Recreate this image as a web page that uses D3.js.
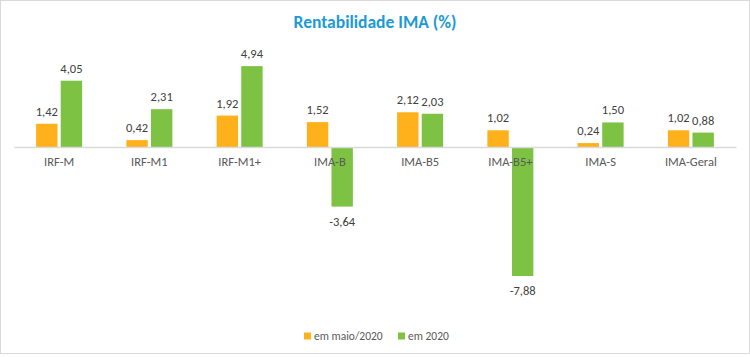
<!DOCTYPE html>
<html><head><meta charset="utf-8">
<script src="https://cdn.jsdelivr.net/npm/d3@7"></script>
<style>body{margin:0;background:#fff}svg{display:block}</style>
</head><body>
<svg id="c" width="750" height="357"></svg>
<script>
const categories = ["IRF-M","IRF-M1","IRF-M1+","IMA-B","IMA-B5","IMA-B5+","IMA-S","IMA-Geral"];
const seriesNames = ["em maio/2020","em 2020"];
const maio2020 = [1.42,0.42,1.92,1.52,2.12,1.02,0.24,1.02];
const ano2020 = [4.05,2.31,4.94,-3.64,2.03,-7.88,1.50,0.88];
const colors = ["#FFB11B","#7DC243"];
const title = "Rentabilidade IMA (%)";

const svg = d3.select("#c");
const W = 750, H = 357;
const font = "Carlito, Lato, 'Open Sans', 'Liberation Sans', sans-serif";
svg.append("rect").attr("x",0.5).attr("y",0.5).attr("width",W-1).attr("height",353).attr("fill","#fff").attr("stroke","#d9d9d9");

const x0 = d3.scaleBand().domain(categories).range([14,736]);
const x1 = d3.scaleBand().domain(seriesNames).range([x0.bandwidth()/2-23, x0.bandwidth()/2+23]).paddingInner(0.13);
const y = d3.scaleLinear().domain([-7.88,4.94]).range([147+7.88*16.37, 147-4.94*16.37]);

svg.append("text").attr("x",375).attr("y",28).attr("text-anchor","middle")
  .attr("font-family",font).attr("font-weight","bold").attr("font-size",17.5).attr("fill","#1C9AD6").text(title);

const data = categories.map((c,i)=>({c, vals:[maio2020[i], ano2020[i]]}));
const g = svg.append("g");
const groups = g.selectAll("g.cat").data(data).join("g").attr("transform",d=>`translate(${x0(d.c)},0)`);
groups.selectAll("rect").data(d=>d.vals.map((v,j)=>({v,s:seriesNames[j],j}))).join("rect")
  .attr("x",d=>x1(d.s)).attr("width",x1.bandwidth())
  .attr("y",d=>y(Math.max(0,d.v))).attr("height",d=>Math.abs(y(d.v)-y(0)))
  .attr("fill",d=>colors[d.j]);

const ax = d3.axisBottom(x0).tickSize(0).tickPadding(10);
const axg = svg.append("g").attr("transform",`translate(0,${y(0)})`).call(ax);
axg.select(".domain").attr("stroke","#d9d9d9").attr("stroke-width",1.5);
axg.selectAll("text").attr("font-family",font).attr("font-size",12.5).attr("fill","#595959");

groups.selectAll("text.v").data(d=>d.vals.map((v,j)=>({v,s:seriesNames[j],j}))).join("text")
  .attr("class","v").attr("text-anchor","middle")
  .attr("x",d=>x1(d.s)+x1.bandwidth()/2)
  .attr("y",d=>d.v>=0 ? y(d.v)-8 : y(d.v)+19)
  .attr("font-family",font).attr("font-size",12.5).attr("fill","#404040")
  .text(d=>d.v.toFixed(2).replace(".",","));

const leg = svg.append("g").attr("transform","translate(304,336)");
const items = [{n:seriesNames[0],x:0,c:colors[0]},{n:seriesNames[1],x:94,c:colors[1]}];
items.forEach(it=>{
  leg.append("rect").attr("x",it.x).attr("y",-3.5).attr("width",7).attr("height",7).attr("fill",it.c);
  leg.append("text").attr("x",it.x+10).attr("y",4).attr("font-family",font).attr("font-size",11.5).attr("fill","#595959").text(it.n);
});
</script>
</body></html>
